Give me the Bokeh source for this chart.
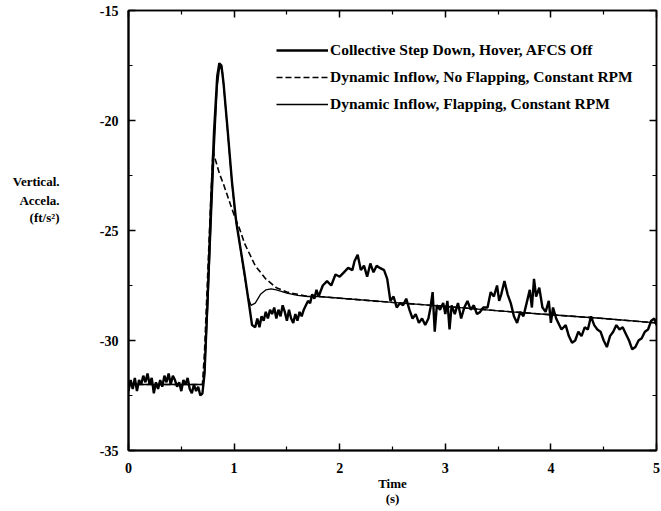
from bokeh.plotting import figure
from bokeh.models import LinearAxis, Range1d, Legend, LegendItem, FixedTicker
from bokeh.embed import file_html
from bokeh.resources import INLINE

# ---- data ----
flight_t = [0.00,0.02,0.04,0.06,0.08,0.10,0.12,0.14,0.16,0.18,0.20,0.22,0.24,0.26,0.28,0.30,0.32,0.34,0.36,0.38,
            0.40,0.42,0.44,0.46,0.48,0.50,0.52,0.54,0.56,0.58,0.60,0.62,0.64,0.66,0.68,0.70,0.72,0.75,0.78,0.81,
            0.84,0.86,0.88,0.90,0.94,0.98,1.02,1.06,1.10,1.14,1.17,1.20,1.22,1.24,1.26,1.28,1.30,1.32,1.34,1.36,
            1.38,1.40,1.42,1.44,1.46,1.48,1.50,1.52,1.54,1.56,1.58,1.60,1.62,1.64,1.66,1.68,1.70,1.72,1.74,1.76,
            1.78,1.80,1.84,1.88,1.92,1.96,2.00,2.04,2.08,2.12,2.14,2.17,2.20,2.23,2.26,2.29,2.32,2.35,2.38,2.42,
            2.45,2.48,2.51,2.54,2.57,2.60,2.63,2.66,2.69,2.72,2.75,2.78,2.81,2.84,2.86,2.88,2.90,2.92,2.95,2.98,
            3.00,3.02,3.04,3.06,3.09,3.12,3.15,3.18,3.21,3.24,3.27,3.30,3.33,3.36,3.40,3.43,3.46,3.49,3.51,3.53,
            3.56,3.59,3.62,3.65,3.68,3.71,3.74,3.77,3.80,3.82,3.84,3.86,3.89,3.92,3.95,3.98,4.00,4.02,4.05,4.10,
            4.14,4.17,4.20,4.23,4.26,4.29,4.32,4.35,4.38,4.41,4.44,4.47,4.50,4.53,4.56,4.59,4.62,4.65,4.68,4.71,
            4.74,4.77,4.80,4.83,4.86,4.89,4.92,4.95,4.98,5.00]
flight_v = [-32.3,-31.8,-32.2,-31.7,-32.3,-31.8,-32.0,-31.6,-31.9,-31.5,-32.0,-31.7,-32.4,-31.9,-32.2,-31.8,-32.1,-31.6,-31.9,-31.5,
            -32.0,-31.6,-31.8,-32.1,-31.9,-32.3,-31.8,-32.0,-31.7,-32.2,-32.4,-32.0,-32.3,-32.1,-32.5,-32.4,-31.5,-28.0,-24.0,-20.5,
            -18.0,-17.4,-17.5,-18.3,-20.5,-22.8,-24.6,-25.8,-27.0,-28.3,-29.3,-29.4,-29.0,-29.4,-28.9,-29.1,-28.7,-29.0,-28.6,-28.8,
            -28.5,-29.0,-28.6,-28.9,-28.4,-28.7,-29.1,-28.6,-29.0,-29.2,-28.8,-29.1,-28.7,-28.9,-28.6,-28.4,-28.2,-28.3,-27.9,-28.1,
            -27.7,-28.0,-27.5,-27.3,-27.5,-27.0,-27.1,-26.9,-26.7,-26.8,-26.4,-26.1,-26.8,-26.6,-27.1,-26.5,-26.9,-26.6,-26.7,-26.8,
            -27.2,-28.2,-28.0,-28.5,-28.3,-28.4,-28.1,-28.6,-29.0,-28.8,-29.2,-29.0,-29.3,-29.0,-28.5,-27.8,-29.6,-28.4,-28.6,-28.3,
            -28.8,-28.2,-29.5,-28.4,-28.8,-28.3,-29.0,-28.5,-28.2,-28.6,-28.4,-28.8,-28.7,-28.5,-28.5,-27.8,-28.0,-27.5,-28.2,-27.9,
            -27.3,-27.9,-28.3,-28.9,-29.2,-28.7,-28.9,-28.3,-27.7,-28.5,-27.2,-28.0,-27.6,-28.5,-28.7,-28.2,-29.2,-28.5,-29.0,-29.5,
            -29.3,-29.8,-30.1,-30.0,-29.6,-29.8,-29.4,-29.5,-28.9,-29.3,-29.5,-29.6,-30.0,-30.3,-29.8,-29.6,-29.3,-29.5,-29.4,-29.7,
            -30.0,-30.4,-30.3,-30.0,-29.9,-29.6,-29.5,-29.1,-29.0,-29.3]

noflap_t = [0.00,0.70,0.72,0.75,0.78,0.80,0.83,0.86,0.90,0.95,1.00,1.05,1.10,1.15,1.20,1.30,1.40,1.50,1.60,1.70,1.80,2.50,3.00,3.50,4.00,4.50,5.00]
noflap_v = [-32.0,-32.0,-30.5,-27.0,-23.5,-21.4,-21.9,-22.4,-22.9,-23.6,-24.3,-24.9,-25.6,-26.1,-26.6,-27.2,-27.6,-27.8,-27.9,-28.0,-28.0,-28.27,-28.45,-28.65,-28.83,-29.0,-29.2]

flap_t = [0.00,0.70,0.72,0.75,0.78,0.81,0.84,0.865,0.89,0.93,0.97,1.01,1.05,1.09,1.13,1.16,1.20,1.25,1.30,1.35,1.40,1.50,1.60,1.70,1.80,2.50,3.00,3.50,4.00,4.50,5.00]
flap_v = [-32.0,-32.0,-31.5,-28.5,-25.0,-21.5,-18.5,-17.5,-17.8,-20.0,-22.3,-24.3,-25.5,-26.8,-28.0,-28.4,-28.3,-27.9,-27.7,-27.65,-27.7,-27.85,-27.95,-28.0,-28.0,-28.27,-28.45,-28.65,-28.83,-29.0,-29.2]

series_names = ["Collective Step Down, Hover, AFCS Off",
                "Dynamic Inflow, No Flapping, Constant RPM",
                "Dynamic Inflow, Flapping, Constant RPM"]
x_ticks = [0, 1, 2, 3, 4, 5]
x_tick_labels = ["0", "1", "2", "3", "4", "5"]
y_ticks = [-35, -30, -25, -20, -15]
y_tick_labels = ["-35", "-30", "-25", "-20", "-15"]
y_title_lines = ["Vertical.", "Accela.", "(ft/s\u00b2)"]
y_title_at = [-22.75, -23.62, -24.42]
x_title = "Time\n(s)"

FONT = "Liberation Serif"

p = figure(width=661, height=511, output_backend="svg", toolbar_location=None,
           x_range=Range1d(0, 5), y_range=Range1d(-35, -15),
           min_border_left=128, min_border_right=5, min_border_top=10, min_border_bottom=61,
           x_axis_location=None, y_axis_location=None)
p.background_fill_color = "white"
p.border_fill_color = "white"
p.xgrid.visible = False
p.ygrid.visible = False
p.outline_line_color = "black"
p.outline_line_width = 1.5

def style_axis(ax, show_labels, width):
    ax.axis_line_width = width
    ax.axis_line_color = "black"
    ax.major_tick_in = 7
    ax.major_tick_out = 0
    ax.minor_tick_in = 4
    ax.minor_tick_out = 0
    ax.major_tick_line_width = 1.5
    ax.minor_tick_line_width = 1.2
    ax.major_label_text_font = FONT
    ax.major_label_text_font_style = "bold"
    ax.major_label_text_font_size = "14px"
    ax.major_label_text_color = "black"
    if not show_labels:
        ax.major_label_text_alpha = 0
        ax.major_label_text_font_size = "1px"

x_minor = [0.5 + i for i in range(5)]
y_minor = [-32.5, -27.5, -22.5, -17.5]

bottom = LinearAxis(ticker=FixedTicker(ticks=x_ticks, minor_ticks=x_minor))
style_axis(bottom, True, 2.2)
bottom.major_label_standoff = 12
bottom.major_label_overrides = {t: s for t, s in zip(x_ticks, x_tick_labels)}
bottom.axis_label = x_title
bottom.axis_label_text_font = FONT
bottom.axis_label_text_font_style = "bold"
bottom.axis_label_text_font_size = "13px"
bottom.axis_label_text_color = "black"
bottom.axis_label_text_line_height = 1.05
bottom.axis_label_standoff = 0

left = LinearAxis(ticker=FixedTicker(ticks=y_ticks, minor_ticks=y_minor))
style_axis(left, True, 2.2)
left.major_label_standoff = 10
left.major_label_overrides = {t: s for t, s in zip(y_ticks, y_tick_labels)}

ytitle = LinearAxis(ticker=FixedTicker(ticks=y_title_at, minor_ticks=[]))
ytitle.axis_line_color = None
ytitle.major_tick_line_color = None
ytitle.minor_tick_line_color = None
ytitle.major_tick_out = 0
ytitle.major_tick_in = 0
ytitle.major_label_standoff = 37
ytitle.major_label_overrides = {t: s for t, s in zip(y_title_at, y_title_lines)}
ytitle.major_label_text_font = FONT
ytitle.major_label_text_font_style = "bold"
ytitle.major_label_text_font_size = "13px"
ytitle.major_label_text_color = "black"

top = LinearAxis(ticker=FixedTicker(ticks=x_ticks, minor_ticks=x_minor))
style_axis(top, False, 1.5)
right = LinearAxis(ticker=FixedTicker(ticks=y_ticks, minor_ticks=y_minor))
style_axis(right, False, 1.5)
p.add_layout(bottom, "below")
p.add_layout(left, "left")
p.add_layout(ytitle, "left")
p.add_layout(top, "above")
p.add_layout(right, "right")

r_flight = p.line(flight_t, flight_v, line_color="black", line_width=2.4)
r_noflap = p.line(noflap_t, noflap_v, line_color="black", line_width=1.6, line_dash="6 3")
r_flap = p.line(flap_t, flap_v, line_color="black", line_width=1.3)

legend = Legend(items=[LegendItem(label=series_names[0], renderers=[r_flight]),
                       LegendItem(label=series_names[1], renderers=[r_noflap]),
                       LegendItem(label=series_names[2], renderers=[r_flap])],
                location=(148, 336), orientation="vertical",
                border_line_color=None, background_fill_alpha=0,
                glyph_width=52, glyph_height=20, label_height=20, spacing=7,
                label_standoff=2, padding=0, margin=0,
                label_text_font=FONT, label_text_font_style="bold",
                label_text_font_size="15.5px", label_text_color="black")
p.add_layout(legend, "center")

open("out.html", "w").write(file_html(p, INLINE))
